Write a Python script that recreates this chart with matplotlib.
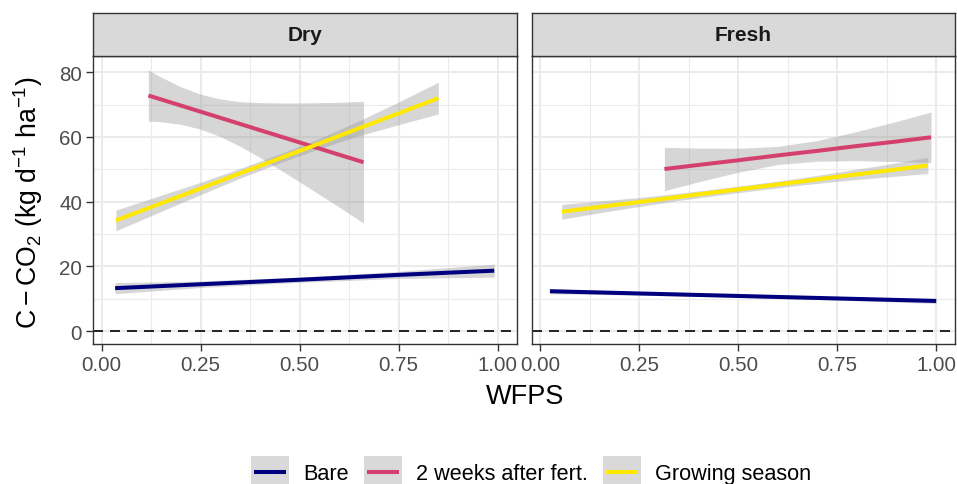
import matplotlib
matplotlib.use('Agg')
import matplotlib.pyplot as plt
from matplotlib.patches import Rectangle
from matplotlib.lines import Line2D
from matplotlib.legend_handler import HandlerBase

plt.rcParams['font.family'] = ['Liberation Sans', 'DejaVu Sans']
plt.rcParams['mathtext.fontset'] = 'custom'
plt.rcParams['mathtext.rm'] = 'Liberation Sans'
plt.rcParams['mathtext.it'] = 'Liberation Sans:italic'
plt.rcParams['mathtext.bf'] = 'Liberation Sans:bold'

# ---------------- data ----------------
facets = ["Dry", "Fresh"]
series = ["Bare", "2 weeks after fert.", "Growing season"]
colors = ["#00007F", "#D4416E", "#FFE800"]

# Dry
dry_bare_x = [0.034, 0.25, 0.50, 0.75, 0.991]
dry_bare_fit = [13.3, 14.5, 15.9, 17.4, 18.7]
dry_bare_lo = [11.6, 13.5, 15.1, 16.3, 16.7]
dry_bare_hi = [15.0, 15.5, 16.7, 18.5, 20.7]

dry_fert_x = [0.118, 0.15, 0.2, 0.25, 0.3, 0.35, 0.4, 0.45, 0.5, 0.55, 0.6, 0.661]
dry_fert_fit = [72.8, 71.6, 69.7, 67.8, 65.9, 64.0, 62.1, 60.2, 58.3, 56.4, 54.5, 52.2]
dry_fert_lo = [64.9, 64.7, 63.9, 62.4, 60.1, 57.1, 53.6, 49.9, 46.1, 42.2, 38.3, 33.4]
dry_fert_hi = [80.7, 78.5, 75.5, 73.2, 71.7, 70.9, 70.6, 70.5, 70.5, 70.6, 70.7, 71.0]

dry_grow_x = [0.036, 0.15, 0.25, 0.35, 0.45, 0.55, 0.65, 0.75, 0.85]
dry_grow_fit = [34.2, 39.5, 44.1, 48.8, 53.4, 58.0, 62.7, 67.3, 72.0]
dry_grow_lo = [31.0, 37.0, 42.2, 47.3, 52.0, 56.4, 60.4, 63.8, 67.1]
dry_grow_hi = [37.4, 42.0, 46.0, 50.3, 54.8, 59.6, 65.0, 70.8, 76.9]

# Fresh
fresh_bare_x = [0.025, 0.25, 0.5, 0.75, 1.0]
fresh_bare_fit = [12.35, 11.66, 10.89, 10.12, 9.35]
fresh_bare_lo = [11.55, 11.16, 10.49, 9.62, 8.55]
fresh_bare_hi = [13.15, 12.16, 11.29, 10.62, 10.15]

fresh_fert_x = [0.314, 0.4, 0.5, 0.6, 0.7, 0.8, 0.9, 0.987]
fresh_fert_fit = [50.1, 51.35, 52.8, 54.3, 55.7, 57.2, 58.6, 59.9]
fresh_fert_lo = [43.4, 46.15, 49.1, 51.5, 52.5, 52.7, 52.4, 52.1]
fresh_fert_hi = [56.8, 56.55, 56.5, 57.1, 58.9, 61.7, 64.8, 67.7]

fresh_grow_x = [0.055, 0.15, 0.25, 0.35, 0.5, 0.65, 0.75, 0.85, 0.979]
fresh_grow_fit = [36.9, 38.4, 39.9, 41.5, 43.8, 46.1, 47.7, 49.2, 51.2]
fresh_grow_lo = [34.6, 36.6, 38.5, 40.4, 42.8, 45.0, 46.3, 47.4, 48.7]
fresh_grow_hi = [39.2, 40.2, 41.3, 42.6, 44.8, 47.2, 49.1, 51.0, 53.7]

x_ticks = [0.0, 0.25, 0.5, 0.75, 1.0]
x_ticklabels = ["0.00", "0.25", "0.50", "0.75", "1.00"]
y_ticks = [0, 20, 40, 60, 80]
y_ticklabels = ["0", "20", "40", "60", "80"]

facet_data = {
    "Dry": [(dry_bare_x, dry_bare_fit, dry_bare_lo, dry_bare_hi),
            (dry_fert_x, dry_fert_fit, dry_fert_lo, dry_fert_hi),
            (dry_grow_x, dry_grow_fit, dry_grow_lo, dry_grow_hi)],
    "Fresh": [(fresh_bare_x, fresh_bare_fit, fresh_bare_lo, fresh_bare_hi),
              (fresh_fert_x, fresh_fert_fit, fresh_fert_lo, fresh_fert_hi),
              (fresh_grow_x, fresh_grow_fit, fresh_grow_lo, fresh_grow_hi)],
}

# ---------------- layout ----------------
W, H = 957, 485
fig = plt.figure(figsize=(W / 100, H / 100), dpi=100)

panel_lefts = [93.3, 531.7]
panel_w = 423.5
panel_top, panel_bot = 56.7, 345.0
strip_top = 14.3
border_col = "#333333"
grid_col = "#EBEBEB"
lw_line = 2.9

for i, (facet, left) in enumerate(zip(facets, panel_lefts)):
    ax = fig.add_axes([left / W, 1 - panel_bot / H, panel_w / W, (panel_bot - panel_top) / H])
    ax.set_xlim(-0.021, 1.048)
    ax.set_ylim(-3.95, 85.1)
    ax.set_xticks(x_ticks)
    ax.set_xticklabels(x_ticklabels)
    ax.set_xticks([0.125, 0.375, 0.625, 0.875], minor=True)
    ax.set_yticks(y_ticks)
    ax.set_yticks([10, 30, 50, 70], minor=True)
    ax.grid(True, which='major', color=grid_col, lw=1.5, zorder=0)
    ax.grid(True, which='minor', color=grid_col, lw=0.8, zorder=0)
    ax.set_axisbelow(True)
    for s in ax.spines.values():
        s.set_color(border_col)
        s.set_linewidth(1.0)
        s.set_zorder(10)
    ax.tick_params(axis='both', which='major', length=5, width=1.0, color=border_col,
                   labelcolor="#4D4D4D", labelsize=14.8, pad=3)
    ax.tick_params(axis='both', which='minor', length=0)
    if i == 0:
        ax.set_yticklabels(y_ticklabels)
    else:
        ax.tick_params(axis='y', which='major', length=0, labelleft=False)

    for (xs, fit, lo, hi), col in zip(facet_data[facet], colors):
        ax.fill_between(xs, lo, hi, color="#999999", alpha=0.4, lw=0, zorder=2)
        ax.plot(xs, fit, color=col, lw=lw_line, solid_capstyle='butt', zorder=3)

    ax.axhline(0, color='black', lw=1.2, linestyle=(0, (6, 4.2)), zorder=4)

    # strip
    sax = fig.add_axes([left / W, 1 - panel_top / H, panel_w / W, (panel_top - strip_top) / H])
    sax.set_facecolor("#D9D9D9")
    sax.set_xticks([])
    sax.set_yticks([])
    for s in sax.spines.values():
        s.set_color(border_col)
        s.set_linewidth(1.0)
    sax.text(0.5, 0.5, facet, ha='center', va='center', fontsize=15, fontweight='bold',
             color="#1A1A1A", transform=sax.transAxes)

# axis titles
fig.text(524.7 / W, 1 - 397 / H, "WFPS", ha='center', va='center', fontsize=19.5)
fig.text(28 / W, 1 - 202.5 / H, r"$\mathregular{C-CO_2\ (kg\ d^{-1}\ ha^{-1})}$",
         ha='center', va='center', rotation=90, fontsize=19.2)


# legend
class KeyHandler(HandlerBase):
    def create_artists(self, legend, orig_handle, xdescent, ydescent, width, height,
                       fontsize, trans):
        rect = Rectangle((-xdescent, -ydescent), width, height, facecolor="#D9D9D9",
                         edgecolor='none', transform=trans)
        yc = -ydescent + height / 2
        ln = Line2D([-xdescent + width * 0.08, -xdescent + width * 0.92], [yc, yc],
                    color=orig_handle.get_color(), lw=orig_handle.get_linewidth(),
                    solid_capstyle='butt', transform=trans)
        return [rect, ln]


handles = [Line2D([], [], color=c, lw=lw_line) for c in colors]
leg_fs = 15.6
fs_px = leg_fs * 100 / 72
fig.legend(handles, series, handler_map={Line2D: KeyHandler()}, ncol=3, loc='center',
           bbox_to_anchor=(531 / W, 1 - 473 / H), frameon=False, fontsize=leg_fs,
           handlelength=38 / fs_px, handleheight=42 / fs_px, handletextpad=14 / fs_px,
           columnspacing=15 / fs_px, borderpad=0, borderaxespad=0)

fig.savefig("out.png", dpi=100)
